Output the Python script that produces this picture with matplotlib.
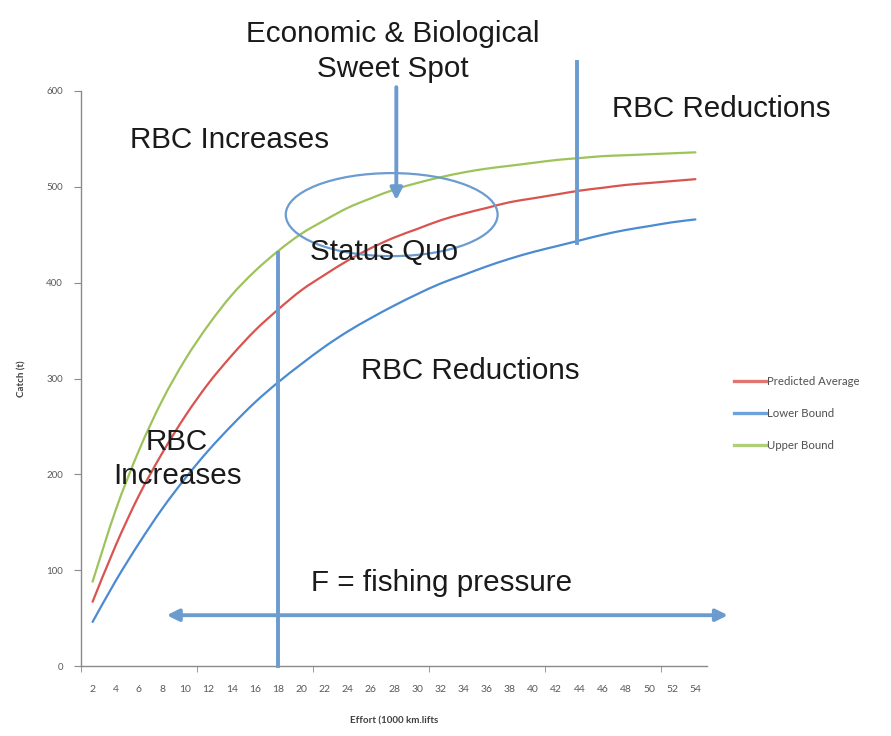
import numpy as np
import matplotlib
matplotlib.use("Agg")
import matplotlib.pyplot as plt
from matplotlib.patches import Ellipse, PathPatch
from matplotlib.path import Path
from matplotlib.lines import Line2D

# ---------------- data ----------------
effort = [2, 4, 6, 8, 10, 12, 14, 16, 18, 20, 22, 24, 26, 28, 30, 32, 34, 36,
          38, 40, 42, 44, 46, 48, 50, 52, 54]
predicted_average = [67, 126, 178, 222, 261, 295, 324, 350, 372, 392, 408, 423,
                     436, 447, 456, 465, 472, 478, 484, 488, 492, 496, 499, 502,
                     504, 506, 508]
lower_bound = [46, 89, 128, 164, 196, 225, 251, 275, 296, 315, 333, 349, 363,
               376, 388, 399, 408, 417, 425, 432, 438, 444, 450, 455, 459, 463, 466]
upper_bound = [88, 163, 225, 277, 320, 356, 387, 412, 433, 451, 465, 478, 488,
               497, 504, 510, 515, 519, 522, 525, 528, 530, 532, 533, 534, 535, 536]
series_names = ["Predicted Average", "Lower Bound", "Upper Bound"]
y_ticks = [0, 100, 200, 300, 400, 500, 600]

# ---------------- styling ----------------
RED = "#d9534f"
BLUE = "#4a8bd1"
GREEN = "#9dc35a"
ANN = "#6b9bcf"
AXC = "#8a8a8a"
TXT = "#595959"
BIG = "Liberation Sans"
SMALL = "Lato"

W, H = 891, 736
fig = plt.figure(figsize=(W / 100, H / 100), dpi=100)
ax = fig.add_axes([81 / W, 1 - 666 / H, (707 - 81) / W, (666 - 91) / H])


def smooth_path(xs, ys):
    """Excel-like smoothed line: Catmull-Rom segments as cubic Beziers."""
    x = np.asarray(xs, float)
    y = np.asarray(ys, float)
    n = len(x)
    verts = [(x[0], y[0])]
    codes = [Path.MOVETO]
    t = 1.0 / 6.0
    for i in range(n - 1):
        x0, y0 = (x[i - 1], y[i - 1]) if i > 0 else (x[i], y[i])
        x3, y3 = (x[i + 2], y[i + 2]) if i + 2 < n else (x[i + 1], y[i + 1])
        c1 = (x[i] + (x[i + 1] - x0) * t, y[i] + (y[i + 1] - y0) * t)
        c2 = (x[i + 1] - (x3 - x[i]) * t, y[i + 1] - (y3 - y[i]) * t)
        verts += [c1, c2, (x[i + 1], y[i + 1])]
        codes += [Path.CURVE4] * 3
    return Path(verts, codes)


for ys, col in [(predicted_average, RED), (lower_bound, BLUE), (upper_bound, GREEN)]:
    ax.add_patch(PathPatch(smooth_path(effort, ys), fill=False, edgecolor=col,
                           lw=1.6, capstyle="round", zorder=3))

ax.set_xlim(1, 55)
ax.set_ylim(0, 600)
ax.set_yticks(y_ticks)
ax.set_yticklabels([str(v) for v in y_ticks], fontsize=7, color=TXT, family=SMALL)
ax.set_xticks(effort)
ax.set_xticklabels([str(v) for v in effort], fontsize=7.5, color=TXT, family=SMALL)
ax.tick_params(axis="x", length=0, pad=14)
ax.set_xticks([1, 11, 21, 31, 41, 51], minor=True)
ax.tick_params(axis="x", which="minor", length=4, color=AXC, direction="out")
ax.tick_params(axis="y", length=5, color=AXC, direction="out", pad=8)
for s in ["top", "right"]:
    ax.spines[s].set_visible(False)
for s in ["left", "bottom"]:
    ax.spines[s].set_color(AXC)
    ax.spines[s].set_linewidth(1.0)

ax.set_ylabel("Catch (t)", fontsize=7, family=SMALL, fontweight="bold", color="#404040", labelpad=14)
ax.set_xlabel("Effort (1000 km.lifts", fontsize=7, family=SMALL, fontweight="bold", color="#404040", labelpad=16)

handles = [Line2D([], [], color=c, lw=2.4, alpha=0.8) for c in (RED, BLUE, GREEN)]
leg = ax.legend(handles, series_names, loc="upper left",
                bbox_to_anchor=(734 / W, 1 - 376 / H),
                bbox_transform=fig.transFigure, frameon=False,
                prop={"family": SMALL, "size": 8.2}, labelcolor="#505050",
                handlelength=2.8, handletextpad=0.1, labelspacing=1.85,
                borderpad=0, borderaxespad=0)

# ---------------- annotations ----------------
ax.plot([18, 18], [0, 431], color=ANN, lw=2.8, clip_on=False, zorder=4)
ax.plot([43.8, 43.8], [441, 630], color=ANN, lw=2.8, clip_on=False, zorder=4)
ax.annotate("", xy=(28.2, 486), xytext=(28.2, 604), annotation_clip=False,
            arrowprops=dict(arrowstyle="-|>,head_length=0.7,head_width=0.35",
                            color=ANN, lw=2.8, shrinkA=0, shrinkB=0))
ax.annotate("", xy=(8.4, 53), xytext=(56.8, 53), annotation_clip=False,
            arrowprops=dict(arrowstyle="<|-|>,head_length=0.7,head_width=0.35",
                            color=ANN, lw=2.8, shrinkA=0, shrinkB=0))
ell = Ellipse((27.8, 471), width=212 / 11.6, height=83 / 0.958, fill=False,
              edgecolor=ANN, lw=1.6, clip_on=False, zorder=4)
ax.add_patch(ell)

tk = dict(family=BIG, fontsize=21.3, color="#1a1a1a", ha="center", va="center",
          clip_on=False, zorder=5)
ax.text(27.9, 641, "Economic & Biological\nSweet Spot", linespacing=1.3, **tk)
ax.text(56.2, 581, "RBC Reductions", **tk)
ax.text(13.8, 549, "RBC Increases", **tk)
ax.text(27.1, 432, "Status Quo", **tk)
ax.text(34.6, 308, "RBC Reductions", **tk)
ax.text(9.3, 216, "RBC\nIncreases", linespacing=1.3, **tk)
ax.text(32.1, 87, "F = fishing pressure", **tk)

fig.savefig("out.png", dpi=100)
